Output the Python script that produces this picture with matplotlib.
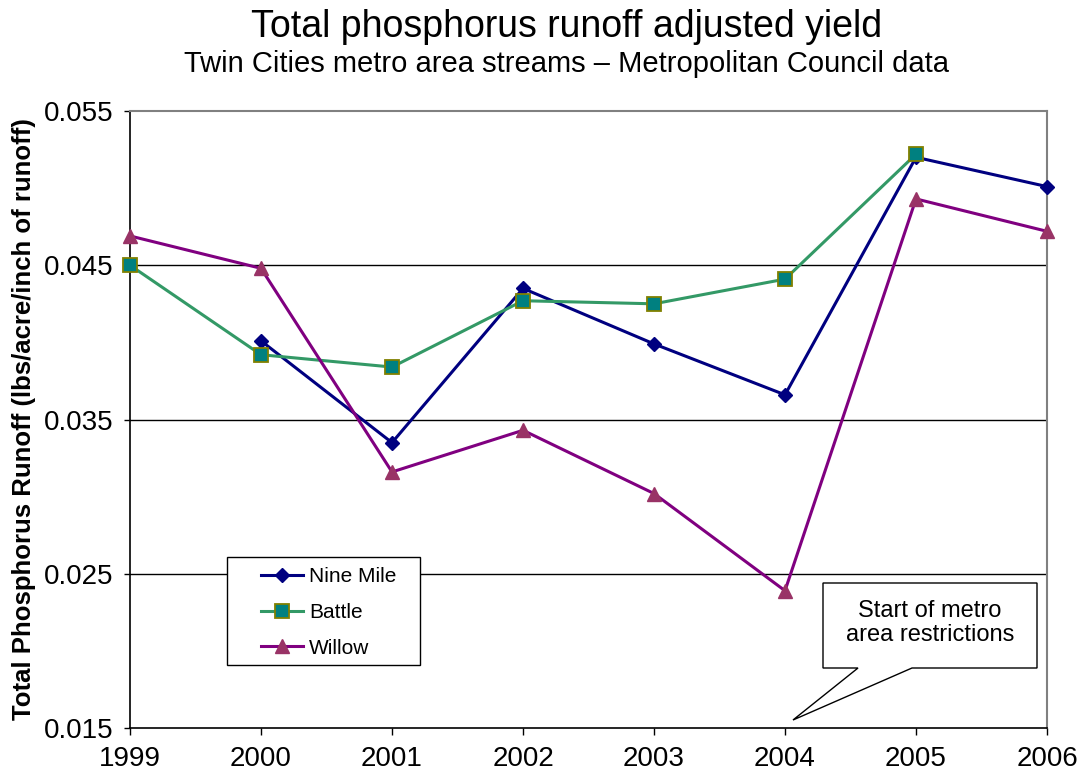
"""Total phosphorus runoff adjusted yield for three Twin Cities metro streams."""

import numpy as np
import matplotlib

matplotlib.use("Agg")
import matplotlib.pyplot as plt
from matplotlib.patches import Polygon, Rectangle

plt.rcParams["font.family"] = ["Liberation Sans", "DejaVu Sans"]

YEARS = [1999, 2000, 2001, 2002, 2003, 2004, 2005, 2006]
NINE_MILE = [np.nan, 0.0401, 0.0335, 0.0435, 0.0399, 0.0366, 0.0520, 0.0501]
BATTLE = [0.0450, 0.0392, 0.0384, 0.0427, 0.0425, 0.0441, 0.0522, np.nan]
WILLOW = [0.0469, 0.0448, 0.0316, 0.0343, 0.0302, 0.0239, 0.0493, 0.0472]
Y_TICKS = [0.015, 0.025, 0.035, 0.045, 0.055]
GRID_LEVELS = [0.025, 0.035, 0.045]

W, H = 1079, 780


def fx(px):
    return px / W


def fy(py):
    return 1 - py / H


fig = plt.figure(figsize=(W / 100, H / 100), dpi=100)
ax = fig.add_axes([fx(130), fy(728), fx(1047) - fx(130), fy(111) - fy(728)])

for lvl in GRID_LEVELS:
    ax.axhline(lvl, color="#000000", lw=1.0, zorder=1)

ax.plot(YEARS, NINE_MILE, color="#000080", lw=2.2, marker="D", ms=7.5,
        mfc="#000080", mec="#000080", label="Nine Mile", zorder=3, clip_on=False)
ax.plot(YEARS, BATTLE, color="#339966", lw=2.2, marker="s", ms=9.5,
        mfc="#008080", mec="#808000", mew=1.3, label="Battle", zorder=3, clip_on=False)
ax.plot(YEARS, WILLOW, color="#800080", lw=2.2, marker="^", ms=10.5,
        mfc="#993366", mec="#993366", label="Willow", zorder=3, clip_on=False)

ax.set_xlim(YEARS[0], YEARS[-1])
ax.set_ylim(Y_TICKS[0], Y_TICKS[-1])
ax.set_xticks(YEARS)
ax.set_yticks(Y_TICKS)
ax.set_yticklabels([f"{v:.3f}" for v in Y_TICKS])
ax.tick_params(axis="x", direction="out", length=5, width=1, pad=8, labelsize=20)
ax.tick_params(axis="y", direction="out", length=4, width=1, pad=8, labelsize=20)

for side in ("left", "bottom"):
    ax.spines[side].set_color("#000000")
    ax.spines[side].set_linewidth(1.2)
for side in ("top", "right"):
    ax.spines[side].set_color("#808080")
    ax.spines[side].set_linewidth(1.5)

ax.set_ylabel("Total Phosphorus Runoff (lbs/acre/inch of runoff)",
              fontsize=18.5, fontweight="bold")
ax.yaxis.set_label_coords(-0.1025, 0.5)

fig.text(fx(567), fy(37), "Total phosphorus runoff adjusted yield",
         fontsize=27, ha="center", va="baseline")
fig.text(fx(567), fy(72), "Twin Cities metro area streams \u2013 Metropolitan Council data",
         fontsize=21, ha="center", va="baseline")

# legend box, drawn inside the axes so the legend can sit above it
ax.add_patch(Rectangle((fx(227), fy(665)), fx(420) - fx(227), fy(557) - fy(665),
                       transform=fig.transFigure, facecolor="white",
                       edgecolor="black", lw=1.0, zorder=6, clip_on=False))
leg = ax.legend(loc="upper left", bbox_to_anchor=(fx(251), fy(557)),
                bbox_transform=fig.transFigure, frameon=False, fontsize=15,
                borderpad=0, handlelength=2.0, handletextpad=0.3, labelspacing=0.8)
leg.set_zorder(7)

# callout
callout = [(823, 583), (1037, 583), (1037, 668), (912, 668), (793, 720),
           (858, 668), (823, 668)]
ax.add_patch(Polygon([(fx(x), fy(y)) for x, y in callout], closed=True,
                     transform=fig.transFigure, facecolor="white",
                     edgecolor="black", lw=1.0, zorder=6, clip_on=False))
ax.text(fx(930), fy(623), "Start of metro\narea restrictions", fontsize=17,
        ha="center", va="center", linespacing=1.15, zorder=7,
        transform=fig.transFigure)

fig.savefig("out.png", dpi=100, facecolor="white")
